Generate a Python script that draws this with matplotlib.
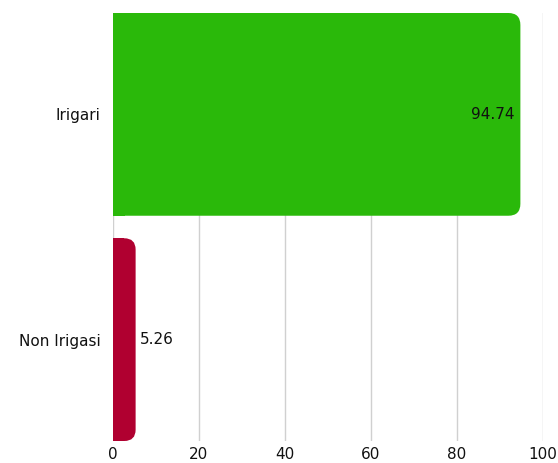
import matplotlib
matplotlib.use("Agg")
import matplotlib.pyplot as plt
from matplotlib.patches import FancyBboxPatch, Rectangle

categories = ["Irigari", "Non Irigasi"]
values = [94.74, 5.26]
value_labels = ["94.74", "5.26"]
colors = ["#2ab90a", "#b00030"]
xticks = [0, 20, 40, 60, 80, 100]

plt.rcParams["font.family"] = ["DejaVu Sans"]

fig = plt.figure(figsize=(5.58, 4.63), dpi=100)
ax = fig.add_axes([113 / 558, 22 / 463, 430 / 558, 428 / 463])

ypos = list(range(len(categories)))
bars = ax.barh(ypos, values, height=0.9, color=colors, zorder=2)

ax.set_xlim(0, 100)
ax.set_ylim(1.45, -0.45)

# rounded right ends: radius in pixels converted to data units
r_px = 12
x_per_px = 100 / 430
y_per_px = 1.9 / 428
for bar, c in zip(bars, colors):
    bar.set_visible(False)
    x0, y0 = bar.get_x(), bar.get_y()
    w, h = bar.get_width(), bar.get_height()
    rx = min(r_px * x_per_px, w / 2)
    ax.add_patch(FancyBboxPatch((x0, y0), w, h,
                                boxstyle=f"round,pad=0,rounding_size={rx}",
                                mutation_aspect=y_per_px / x_per_px,
                                fc=c, ec="none", zorder=2))
    ax.add_patch(Rectangle((x0, y0), min(w / 2, rx * 1.01), h,
                           fc=c, ec="none", zorder=2))

for y, v, lab in zip(ypos, values, value_labels):
    if v > 20:
        ax.annotate(lab, (v, y), xytext=(-4, 0), textcoords="offset points",
                    ha="right", va="center", fontsize=11, color="#111111")
    else:
        ax.annotate(lab, (v, y), xytext=(3, 0), textcoords="offset points",
                    ha="left", va="center", fontsize=11, color="#111111")

ax.set_xticks(xticks)
ax.set_yticks(ypos)
ax.set_yticklabels(categories)
ax.tick_params(axis="both", length=0, labelsize=11, colors="#111111")
ax.tick_params(axis="x", pad=4)
ax.tick_params(axis="y", pad=9)
ax.grid(axis="x", color="#d0d0d0", linewidth=1, zorder=0)
for s in ax.spines.values():
    s.set_visible(False)

fig.savefig("out.png", dpi=100)
